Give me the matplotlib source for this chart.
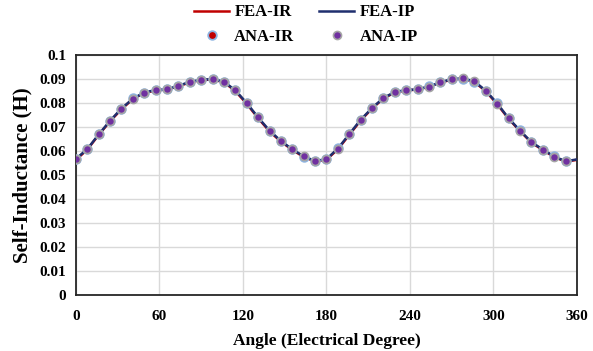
import numpy as np
import matplotlib.pyplot as plt

plt.rcParams['font.family'] = ['Liberation Serif', 'DejaVu Serif']
plt.rcParams['font.weight'] = 'bold'

# angles of the analytical points (44 per electrical period)
ana_angle = [i * 360 / 44 for i in range(44)]
ana_ip = [0.0567, 0.0608, 0.0669, 0.0726, 0.0777, 0.0818, 0.0844, 0.0854, 0.0857, 0.0872,
          0.0888, 0.0897, 0.0900, 0.0889, 0.0853, 0.0800, 0.0740, 0.0685, 0.0642, 0.0607,
          0.0578, 0.0558, 0.0566, 0.0610, 0.0670, 0.0730, 0.0779, 0.0821, 0.0846, 0.0854,
          0.0857, 0.0869, 0.0886, 0.0900, 0.0903, 0.0890, 0.0851, 0.0798, 0.0736, 0.0685,
          0.0637, 0.0606, 0.0577, 0.0557]
ana_ir = [0.0566, 0.0609, 0.0670, 0.0727, 0.0776, 0.0819, 0.0843, 0.0855, 0.0858, 0.0871,
          0.0887, 0.0898, 0.0899, 0.0888, 0.0854, 0.0801, 0.0741, 0.0684, 0.0641, 0.0608,
          0.0577, 0.0559, 0.0567, 0.0611, 0.0669, 0.0729, 0.0780, 0.0820, 0.0845, 0.0855,
          0.0858, 0.0870, 0.0887, 0.0899, 0.0902, 0.0889, 0.0852, 0.0799, 0.0737, 0.0686,
          0.0638, 0.0605, 0.0578, 0.0558]

# FEA curves
fea_angle = ana_angle + [360]
fea_ir = [0.0563, 0.0606, 0.0667, 0.0724, 0.0774, 0.0817, 0.0842, 0.0853, 0.0856, 0.0870,
          0.0886, 0.0896, 0.0898, 0.0887, 0.0850, 0.0797, 0.0737, 0.0682, 0.0639, 0.0605,
          0.0575, 0.0557, 0.0564, 0.0607, 0.0667, 0.0727, 0.0777, 0.0819, 0.0844, 0.0853,
          0.0856, 0.0868, 0.0885, 0.0898, 0.0901, 0.0888, 0.0849, 0.0795, 0.0734, 0.0683,
          0.0635, 0.0604, 0.0575, 0.0556, 0.0563]
fea_ip = [0.0567, 0.0608, 0.0669, 0.0726, 0.0777, 0.0818, 0.0844, 0.0854, 0.0857, 0.0872,
          0.0888, 0.0897, 0.0900, 0.0889, 0.0853, 0.0800, 0.0740, 0.0685, 0.0642, 0.0607,
          0.0578, 0.0558, 0.0566, 0.0610, 0.0670, 0.0730, 0.0779, 0.0821, 0.0846, 0.0854,
          0.0857, 0.0869, 0.0886, 0.0900, 0.0903, 0.0890, 0.0851, 0.0798, 0.0736, 0.0685,
          0.0637, 0.0606, 0.0577, 0.0557, 0.0565]

xticks = [0, 60, 120, 180, 240, 300, 360]
yticks = [0, 0.01, 0.02, 0.03, 0.04, 0.05, 0.06, 0.07, 0.08, 0.09, 0.1]
ytick_labels = ['0', '0.01', '0.02', '0.03', '0.04', '0.05', '0.06', '0.07', '0.08', '0.09', '0.1']

fig = plt.figure(figsize=(5.93, 3.51), dpi=100)
ax = fig.add_axes([0.128, 0.16, 0.845, 0.683])

l1, = ax.plot(fea_angle, fea_ir, color='#c00000', lw=1.8, zorder=2)
l2, = ax.plot(fea_angle, fea_ip, color='#1f2f6e', lw=1.8, zorder=3)
m1, = ax.plot(ana_angle, ana_ir, 'o', ms=6.2, mfc='#c00000', mec='#8db4e2', mew=1.3, zorder=4)
m2, = ax.plot(ana_angle, ana_ip, 'o', ms=5.8, mfc='#7030a0', mec='#a5a5a5', mew=1.2, zorder=5)

ax.set_xlim(0, 360)
ax.set_ylim(0, 0.1)
ax.set_xticks(xticks)
ax.set_yticks(yticks)
ax.set_yticklabels(ytick_labels)
ax.tick_params(axis='x', length=0, labelsize=11, pad=11)
ax.tick_params(axis='y', length=0, labelsize=11, pad=7)
for lab in ax.get_xticklabels() + ax.get_yticklabels():
    lab.set_fontweight('bold')
ax.grid(True, color='#d9d9d9', lw=1)
ax.set_axisbelow(True)
for s in ax.spines.values():
    s.set_linewidth(1.3)
    s.set_color('#262626')

ax.set_xlabel('Angle (Electrical Degree)', fontsize=12.5, fontweight='bold', labelpad=7)
ax.set_ylabel('Self-Inductance (H)', fontsize=15, fontweight='bold', labelpad=5)

fig.legend([l1, m1, l2, m2], ['FEA-IR', 'ANA-IR', 'FEA-IP', 'ANA-IP'],
           ncol=2, loc='upper center', bbox_to_anchor=(0.516, 1.03), frameon=False,
           prop={'size': 12, 'weight': 'bold'}, columnspacing=1.5, handlelength=2.1,
           handletextpad=0.3, labelspacing=0.5)

fig.savefig('out.png', dpi=100)
